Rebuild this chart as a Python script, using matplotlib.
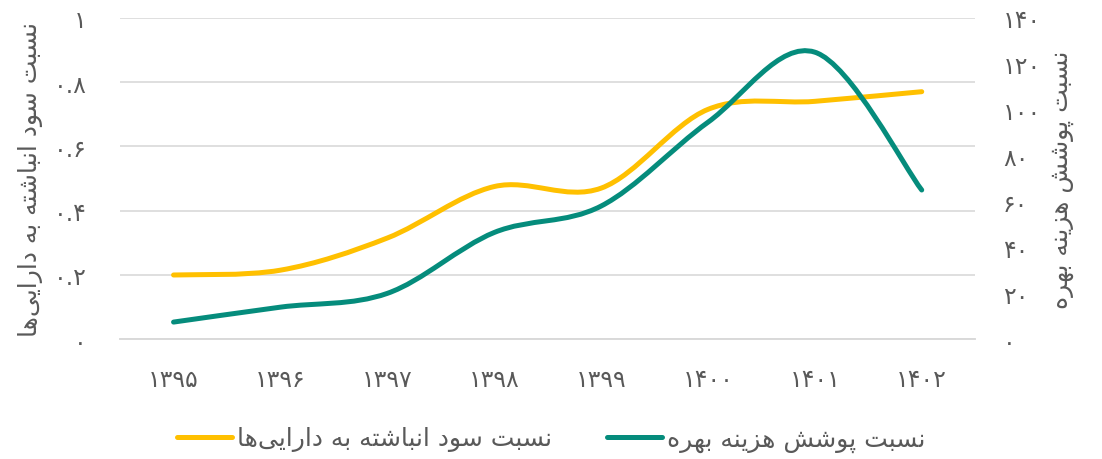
import numpy as np
import matplotlib.pyplot as plt
from matplotlib.path import Path
from matplotlib.patches import PathPatch
from matplotlib.lines import Line2D

years = ['۱۳۹۵', '۱۳۹۶', '۱۳۹۷', '۱۳۹۸', '۱۳۹۹', '۱۴۰۰', '۱۴۰۱', '۱۴۰۲']
retained_ratio = [0.20, 0.215, 0.315, 0.475, 0.47, 0.715, 0.74, 0.77]
interest_cover = [7.5, 14, 20, 46.5, 58, 94.5, 125, 65]

left_ticks = [0, 0.2, 0.4, 0.6, 0.8, 1]
left_ticklabels = ['۰', '۰.۲', '۰.۴', '۰.۶', '۰.۸', '۱']
right_ticks = [0, 20, 40, 60, 80, 100, 120, 140]
right_ticklabels = ['۰', '۲۰', '۴۰', '۶۰', '۸۰', '۱۰۰', '۱۲۰', '۱۴۰']

label_left = 'نسبت سود انباشته به دارایی\u200cها'
label_right = 'نسبت پوشش هزینه بهره'

YELLOW = '#FFC000'
TEAL = '#058C7C'
GREY = '#595959'

# matplotlib has no arabic shaping, so pick presentation forms by hand
# (isolated, final, initial, medial)
FORMS = {
    'ا': ('\uFE8D', '\uFE8E', None, None),
    'ب': ('\uFE8F', '\uFE90', '\uFE91', '\uFE92'),
    'ت': ('\uFE95', '\uFE96', '\uFE97', '\uFE98'),
    'د': ('\uFEA9', '\uFEAA', None, None),
    'ر': ('\uFEAD', '\uFEAE', None, None),
    'ز': ('\uFEAF', '\uFEB0', None, None),
    'س': ('\uFEB1', '\uFEB2', '\uFEB3', '\uFEB4'),
    'ش': ('\uFEB5', '\uFEB6', '\uFEB7', '\uFEB8'),
    'ن': ('\uFEE5', '\uFEE6', '\uFEE7', '\uFEE8'),
    'ه': ('\uFEE9', '\uFEEA', '\uFEEB', '\uFEEC'),
    'و': ('\uFEED', '\uFEEE', None, None),
    'پ': ('\uFB56', '\uFB57', '\uFB58', '\uFB59'),
    'ی': ('\uFBFC', '\uFBFD', '\uFBFE', '\uFBFF'),
}


def shape(text):
    out = []
    for i, ch in enumerate(text):
        if ch not in FORMS:
            if ch != '\u200c':
                out.append(ch)
            continue
        prev = text[i - 1] if i > 0 else ''
        nxt = text[i + 1] if i + 1 < len(text) else ''
        f = FORMS[ch]
        jp = prev in FORMS and FORMS[prev][2] is not None
        jn = f[2] is not None and nxt in FORMS
        if jp and jn:
            out.append(f[3])
        elif jp:
            out.append(f[1])
        elif jn:
            out.append(f[2])
        else:
            out.append(f[0])
    return ''.join(reversed(out))


def smooth_path(x, y):
    # excel style smoothed line as cubic bezier segments
    x = list(x)
    y = list(y)
    px = [x[0]] + x + [x[-1]]
    py = [y[0]] + y + [y[-1]]
    verts = [(x[0], y[0])]
    codes = [Path.MOVETO]
    for i in range(1, len(x)):
        a = i  # index into padded lists for point i-1
        c1 = (px[a] + (px[a + 1] - px[a - 1]) / 6, py[a] + (py[a + 1] - py[a - 1]) / 6)
        c2 = (px[a + 1] - (px[a + 2] - px[a]) / 6, py[a + 1] - (py[a + 2] - py[a]) / 6)
        verts += [c1, c2, (x[i], y[i])]
        codes += [Path.CURVE4] * 3
    return Path(verts, codes)


plt.rcParams['font.family'] = ['DejaVu Sans']

fig = plt.figure(figsize=(11.02, 4.6), dpi=100)
ax = fig.add_axes([0.109, 0.2602, 0.7759, 0.6991])
ax2 = ax.twinx()

xs = np.arange(len(years))
ax.add_patch(PathPatch(smooth_path(xs, retained_ratio), fill=False, edgecolor=YELLOW,
                       lw=3.6, capstyle='round', joinstyle='round', zorder=3))
ax2.add_patch(PathPatch(smooth_path(xs, interest_cover), fill=False, edgecolor=TEAL,
                        lw=3.6, capstyle='round', joinstyle='round', zorder=3))

ax.set_xlim(-0.5, len(years) - 0.5)
ax.set_ylim(0, 1)
ax2.set_ylim(0, 140)

ax.set_xticks(xs)
ax.set_xticklabels(years)
ax.set_yticks(left_ticks)
ax.set_yticklabels(left_ticklabels)
ax2.set_yticks(right_ticks)
ax2.set_yticklabels(right_ticklabels)

ax.grid(axis='y', color='#D9D9D9', lw=1.2)
ax.set_axisbelow(True)
for a in (ax, ax2):
    for s in ('top', 'left', 'right'):
        a.spines[s].set_visible(False)
    a.spines['bottom'].set_color('#D9D9D9')
    a.spines['bottom'].set_linewidth(1.2)
    a.tick_params(length=0, labelsize=17, labelcolor=GREY)
ax.tick_params(axis='x', pad=20)
ax.tick_params(axis='y', pad=24)
ax2.tick_params(axis='y', pad=20)

ax.set_ylabel(shape(label_left), fontsize=18, color=GREY, labelpad=8)
ax2.set_ylabel(shape(label_right), fontsize=18, color=GREY, rotation=90, labelpad=6)

handles = [Line2D([], [], color=YELLOW, lw=3.6, solid_capstyle='round'),
           Line2D([], [], color=TEAL, lw=3.6, solid_capstyle='round')]
fig.legend(handles, [shape(label_left), shape(label_right)], loc='center',
           bbox_to_anchor=(0.5, 1 - 440 / 460), ncol=2, frameon=False,
           fontsize=18, labelcolor=GREY, handlelength=2.2, handletextpad=0.2,
           columnspacing=2.2)

fig.savefig('out.png', dpi=100)
